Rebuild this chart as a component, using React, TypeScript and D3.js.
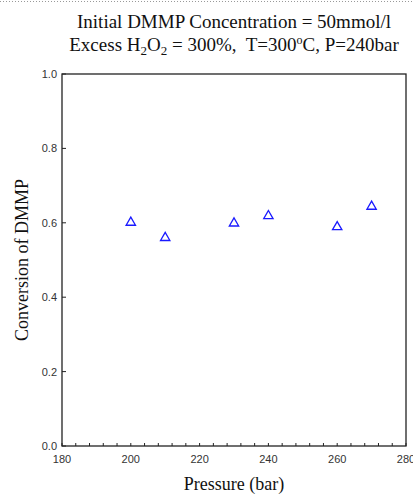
import React, { useEffect, useRef } from "react";
import * as d3 from "d3";

const pressures = [200, 210, 230, 240, 260, 270];
const conversions = [0.602, 0.561, 0.6, 0.62, 0.59, 0.645];
const xTicks = [180, 200, 220, 240, 260, 280];
const yTicks = [0.0, 0.2, 0.4, 0.6, 0.8, 1.0];

const W = 413,
  H = 496;

export default function App() {
  const ref = useRef<SVGSVGElement | null>(null);

  useEffect(() => {
    const svg = d3.select(ref.current);
    svg.selectAll("*").remove();

    const left = 62,
      right = 406,
      top = 74,
      bottom = 446;

    const x = d3.scaleLinear().domain([180, 280]).range([left, right]);
    const y = d3.scaleLinear().domain([0, 1]).range([bottom, top]);

    // dotted rule across the top
    svg
      .append("line")
      .attr("x1", 0)
      .attr("x2", W)
      .attr("y1", 1.5)
      .attr("y2", 1.5)
      .attr("stroke", "#999")
      .attr("stroke-dasharray", "1,2");

    // frame
    svg
      .append("rect")
      .attr("x", left)
      .attr("y", top)
      .attr("width", right - left)
      .attr("height", bottom - top)
      .attr("fill", "none")
      .attr("stroke", "#222")
      .attr("stroke-width", 1.3);

    // x ticks (inward), minor every 4
    const minor = d3.range(180, 281, 4);
    svg
      .append("g")
      .selectAll("line")
      .data(minor)
      .join("line")
      .attr("x1", (d) => x(d))
      .attr("x2", (d) => x(d))
      .attr("y1", bottom)
      .attr("y2", bottom - 3)
      .attr("stroke", "#222");

    svg
      .append("g")
      .selectAll("text")
      .data(xTicks)
      .join("text")
      .attr("x", (d) => x(d))
      .attr("y", bottom + 17)
      .attr("text-anchor", "middle")
      .attr("font-family", "Arial, Liberation Sans, sans-serif")
      .attr("font-size", 11)
      .attr("fill", "#333")
      .text((d) => d);

    // y ticks
    svg
      .append("g")
      .selectAll("line")
      .data(yTicks)
      .join("line")
      .attr("x1", left)
      .attr("x2", left + 4)
      .attr("y1", (d) => y(d))
      .attr("y2", (d) => y(d))
      .attr("stroke", "#222");

    svg
      .append("g")
      .selectAll("text")
      .data(yTicks)
      .join("text")
      .attr("x", left - 5)
      .attr("y", (d) => y(d) + 4)
      .attr("text-anchor", "end")
      .attr("font-family", "Arial, Liberation Sans, sans-serif")
      .attr("font-size", 11)
      .attr("fill", "#333")
      .text((d) => d3.format(".1f")(d));

    // data points: open triangles
    const tri = d3.symbol().type(d3.symbolTriangle).size(38);
    svg
      .append("g")
      .selectAll("path")
      .data(pressures)
      .join("path")
      .attr("transform", (d, i) => `translate(${x(d)},${y(conversions[i]) + 0.5})`)
      .attr("d", tri)
      .attr("fill", "none")
      .attr("stroke", "#1a1aff")
      .attr("stroke-width", 1.3);

    const serif = "'Liberation Serif', 'Times New Roman', serif";

    // axis titles
    svg
      .append("text")
      .attr("x", (left + right) / 2)
      .attr("y", 490)
      .attr("text-anchor", "middle")
      .attr("font-family", serif)
      .attr("font-size", 18)
      .attr("fill", "#111")
      .text("Pressure (bar)");

    svg
      .append("text")
      .attr("transform", `translate(28,${(top + bottom) / 2}) rotate(-90)`)
      .attr("text-anchor", "middle")
      .attr("font-family", serif)
      .attr("font-size", 18)
      .attr("fill", "#111")
      .text("Conversion of DMMP");

    // title
    svg
      .append("text")
      .attr("x", 234)
      .attr("y", 28)
      .attr("text-anchor", "middle")
      .attr("font-family", serif)
      .attr("font-size", 19)
      .attr("fill", "#111")
      .text("Initial DMMP Concentration = 50mmol/l");

    const t2 = svg
      .append("text")
      .attr("x", 234)
      .attr("y", 51)
      .attr("text-anchor", "middle")
      .attr("font-family", serif)
      .attr("font-size", 19)
      .attr("fill", "#111")
      .attr("xml:space", "preserve");
    t2.append("tspan").text("Excess H");
    t2.append("tspan").attr("dy", 4).attr("font-size", 13).text("2");
    t2.append("tspan").attr("dy", -4).text("O");
    t2.append("tspan").attr("dy", 4).attr("font-size", 13).text("2");
    t2.append("tspan").attr("dy", -4).text(" = 300%,  T=300");
    t2.append("tspan").attr("dy", -7).attr("font-size", 12).text("o");
    t2.append("tspan").attr("dy", 7).text("C, P=240bar");
  }, []);

  return (
    <svg
      ref={ref}
      width={W}
      height={H}
      style={{ position: "absolute", left: 0, top: 0, background: "#fff" }}
    />
  );
}
